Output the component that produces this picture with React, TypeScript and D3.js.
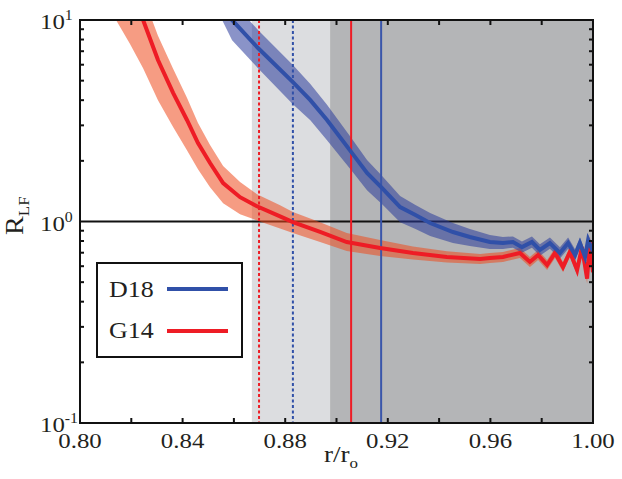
import { area, format, line, scaleLinear, scaleLog } from "d3";

// G14 curve (red) - r/ro, R_LF, and band spread in decades (up / down)
const g14R = [0.814, 0.8195, 0.8246, 0.8304, 0.8363, 0.8417, 0.846, 0.8507, 0.8558, 0.8624, 0.869, 0.878, 0.883, 0.8936, 0.904, 0.917, 0.9298, 0.943, 0.956, 0.9598, 0.9649, 0.9715, 0.9754, 0.9786, 0.9821, 0.9852, 0.9883, 0.991, 0.9938, 0.9957, 0.9977, 0.9988, 1.0];
const g14 = [20, 14.5, 10, 6.33, 4.35, 3.19, 2.45, 1.95, 1.55, 1.32, 1.19, 1.06, 0.994, 0.887, 0.791, 0.739, 0.698, 0.667, 0.652, 0.659, 0.667, 0.698, 0.63, 0.682, 0.608, 0.698, 0.594, 0.706, 0.574, 0.746, 0.52, 0.8, 0.56];
const g14Up = [0.12, 0.12, 0.12, 0.12, 0.12, 0.11, 0.1, 0.09, 0.085, 0.075, 0.06, 0.055, 0.05, 0.048, 0.045, 0.04, 0.032, 0.028, 0.025, 0.025, 0.025, 0.025, 0.025, 0.025, 0.025, 0.025, 0.025, 0.025, 0.025, 0.025, 0.025, 0.025, 0.025];
const g14Dn = [0.3, 0.28, 0.24, 0.2, 0.17, 0.15, 0.13, 0.12, 0.1, 0.085, 0.07, 0.06, 0.055, 0.05, 0.045, 0.04, 0.032, 0.028, 0.025, 0.025, 0.025, 0.025, 0.025, 0.025, 0.025, 0.025, 0.025, 0.025, 0.025, 0.025, 0.025, 0.025, 0.025];

// D18 curve (blue)
const d18R = [0.85, 0.8546, 0.8593, 0.8694, 0.883, 0.8898, 0.8963, 0.906, 0.9119, 0.9177, 0.9248, 0.9306, 0.9365, 0.9454, 0.952, 0.9598, 0.9649, 0.9688, 0.9723, 0.9762, 0.9793, 0.9832, 0.9871, 0.9903, 0.993, 0.9949, 0.9969, 0.9981, 1.0];
const d18 = [18, 13.2, 10, 7.26, 4.92, 4.0, 3.19, 2.19, 1.74, 1.47, 1.18, 1.08, 0.983, 0.887, 0.838, 0.791, 0.782, 0.791, 0.746, 0.791, 0.722, 0.782, 0.698, 0.782, 0.682, 0.782, 0.667, 0.81, 0.707];
const d18Up = [0.09, 0.09, 0.09, 0.09, 0.085, 0.08, 0.075, 0.07, 0.065, 0.06, 0.055, 0.05, 0.05, 0.045, 0.04, 0.035, 0.03, 0.028, 0.028, 0.028, 0.028, 0.028, 0.028, 0.028, 0.028, 0.028, 0.028, 0.028, 0.028];
const d18Dn = [0.1, 0.1, 0.1, 0.1, 0.11, 0.1, 0.1, 0.09, 0.085, 0.08, 0.075, 0.07, 0.065, 0.055, 0.045, 0.035, 0.03, 0.028, 0.028, 0.028, 0.028, 0.028, 0.028, 0.028, 0.028, 0.028, 0.028, 0.028, 0.028];

// shaded zones and vertical markers
const lightZone = [0.867, 0.8975];
const darkZone = [0.8975, 1.0];
const markers = [
  { r: 0.8698, color: "#ee1c25", dotted: true },
  { r: 0.883, color: "#3050a8", dotted: true },
  { r: 0.9057, color: "#ee1c25", dotted: false },
  { r: 0.9174, color: "#3a55aa", dotted: false },
];

const xTicks = [0.8, 0.82, 0.84, 0.86, 0.88, 0.9, 0.92, 0.94, 0.96, 0.98, 1.0];
const xLabels = [0.8, 0.84, 0.88, 0.92, 0.96, 1.0];
const yDecades = [-1, 0, 1];
const yMinor = [2, 3, 4, 5, 6, 7, 8, 9];

const legendItems = [
  { name: "D18", color: "#3050a8" },
  { name: "G14", color: "#ee1c25" },
];

const font = "'Liberation Serif', 'Times New Roman', serif";
const ink = "#231f20";
const stretch = 1.13; // glyphs in the figure are a bit wider than plain Times

// text with a slight horizontal stretch, anchored at (x, y)
const Txt = ({ x, y, size, anchor = "start", children }: any) => (
  <g transform={`translate(${x},${y}) scale(${stretch},1)`}>
    <text x={0} y={0} fontSize={size} textAnchor={anchor} fill={ink}>
      {children}
    </text>
  </g>
);

export default function App() {
  const width = 622;
  const height = 479;
  const left = 80;
  const right = 593;
  const top = 20;
  const bottom = 423;

  const x = scaleLinear().domain([0.8, 1.0]).range([left, right]);
  const y = scaleLog().domain([0.1, 10]).range([bottom, top]);

  const band = (rs, vs, up, dn) =>
    area<number>()
      .x((i) => x(rs[i]))
      .y0((i) => y(vs[i] / Math.pow(10, dn[i])))
      .y1((i) => y(vs[i] * Math.pow(10, up[i])))(rs.map((_, i) => i));

  const center = (rs, vs) =>
    line<number>()
      .x((i) => x(rs[i]))
      .y((i) => y(vs[i]))(rs.map((_, i) => i));

  const minorTicks = [];
  for (const d of [-1, 0]) {
    for (const m of yMinor) minorTicks.push(m * Math.pow(10, d));
  }

  return (
    <>
      <style>{"body{margin:0}"}</style>
      <svg width={width} height={height} style={{ display: "block", fontFamily: font }}>
        <defs>
          <clipPath id="plot">
            <rect x={left} y={top} width={right - left} height={bottom - top} />
          </clipPath>
        </defs>
        <rect x={0} y={0} width={width} height={height} fill="#fff" />
        <g clipPath="url(#plot)">
          <rect x={x(lightZone[0])} y={top} width={x(lightZone[1]) - x(lightZone[0])} height={bottom - top} fill="#dcdde0" />
          <rect x={x(darkZone[0])} y={top} width={x(darkZone[1]) - x(darkZone[0])} height={bottom - top} fill="#b4b5b7" />
          <line x1={left} x2={right} y1={y(1)} y2={y(1)} stroke="#111" strokeWidth={2} />
          <path d={band(g14R, g14, g14Up, g14Dn)} fill="#ee4a1e" fillOpacity={0.55} />
          <path d={band(d18R, d18, d18Up, d18Dn)} fill="#2a3a9a" fillOpacity={0.55} />
          {markers.map((m, i) => (
            <line
              key={i}
              x1={x(m.r)}
              x2={x(m.r)}
              y1={top}
              y2={bottom}
              stroke={m.color}
              strokeWidth={2}
              strokeDasharray={m.dotted ? "3,2.5" : undefined}
            />
          ))}
          <path d={center(g14R, g14)} fill="none" stroke="#ee1c25" strokeWidth={4} />
          <path d={center(d18R, d18)} fill="none" stroke="#3050a8" strokeWidth={4} />
        </g>

        {/* ticks */}
        {xTicks.map((t) => (
          <g key={t}>
            <line x1={x(t)} x2={x(t)} y1={bottom} y2={bottom - 5} stroke="#111" strokeWidth={2} />
            <line x1={x(t)} x2={x(t)} y1={top} y2={top + 5} stroke="#111" strokeWidth={2} />
          </g>
        ))}
        {minorTicks.map((t) => (
          <g key={t}>
            <line x1={left} x2={left + 4} y1={y(t)} y2={y(t)} stroke="#111" strokeWidth={2} />
            <line x1={right} x2={right - 4} y1={y(t)} y2={y(t)} stroke="#111" strokeWidth={2} />
          </g>
        ))}
        <rect x={left} y={top} width={right - left} height={bottom - top} fill="none" stroke="#111" strokeWidth={2} />

        {/* tick labels */}
        {xLabels.map((t) => (
          <Txt key={t} x={x(t)} y={448} size={22} anchor="middle">
            {format(".2f")(t)}
          </Txt>
        ))}
        {yDecades.map((d) => (
          <Txt key={d} x={40} y={y(Math.pow(10, d)) + 9} size={22}>
            10
            <tspan fontSize={14} dy={-9}>
              {d}
            </tspan>
          </Txt>
        ))}

        {/* axis titles */}
        <Txt x={324} y={462} size={24}>
          r/r<tspan fontSize={15} dy={6}>o</tspan>
        </Txt>
        <g transform="translate(23,235) rotate(-90)">
          <Txt x={0} y={0} size={25}>
            R<tspan fontSize={15} dy={6}>LF</tspan>
          </Txt>
        </g>

        {/* legend */}
        <rect x={97} y={263} width={145} height={94} fill="#fff" stroke="#111" strokeWidth={2} />
        {legendItems.map((it, i) => (
          <g key={it.name}>
            <Txt x={109} y={297 + i * 41} size={23}>
              {it.name}
            </Txt>
            <line x1={167} x2={228} y1={289 + i * 42} y2={289 + i * 42} stroke={it.color} strokeWidth={4} />
          </g>
        ))}
      </svg>
    </>
  );
}
